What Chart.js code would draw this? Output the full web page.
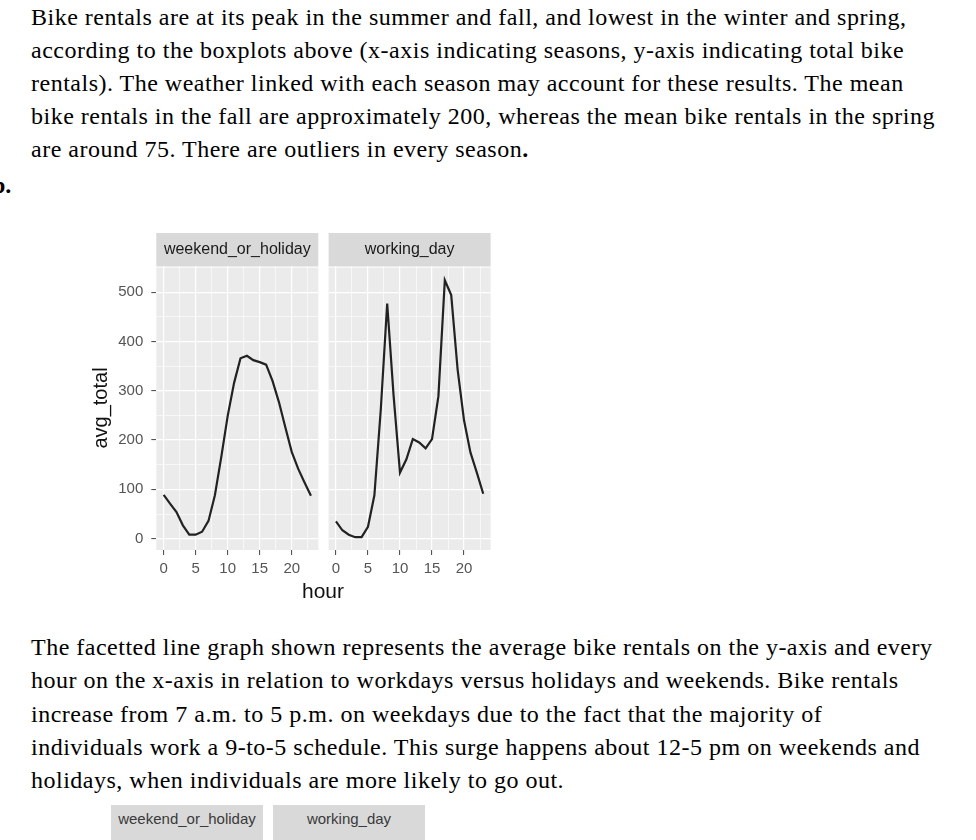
<!DOCTYPE html>
<html>
<head>
<meta charset="utf-8">
<script src="https://cdn.jsdelivr.net/npm/chart.js@4.4.1/dist/chart.umd.min.js"></script>
<style>
  body { margin: 0; background: #fff; width: 976px; height: 840px; overflow: hidden; position: relative; }
  .para { position: absolute; left: 31px; font-family: "Liberation Serif", "Times New Roman", serif;
          font-size: 24px; letter-spacing: 0.5px; line-height: 33px; color: #000; white-space: nowrap; }
  .mark { position: absolute; left: -8px; top: 169px; font-family: "Liberation Serif", serif;
          font-size: 24px; font-weight: bold; line-height: 33px; }
  canvas { position: absolute; }
  .xtitle { position: absolute; left: 273px; width: 100px; top: 579px; text-align: center;
            font-family: "Liberation Sans", Arial, sans-serif; font-size: 21px; color: #111; }
  .strip { position: absolute; top: 805px; height: 40px; background: #d9d9d9; color: #3a3a3a;
           font-family: "Liberation Sans", Arial, sans-serif; font-size: 15px; text-align: center; line-height: 28px; }
</style>
</head>
<body>
<div class="para" style="top:1px">
Bike rentals are at its peak in the summer and fall, and lowest in the winter and spring,<br>
according to the boxplots above (x-axis indicating seasons, y-axis indicating total bike<br>
rentals). The weather linked with each season may account for these results. The mean<br>
bike rentals in the fall are approximately 200, whereas the mean bike rentals in the spring<br>
are around 75. There are outliers in every season<b>.</b>
</div>
<div class="mark">b.</div>

<canvas id="leftChart" width="245" height="352" style="left:80px;top:228px;width:245px;height:352px"></canvas>
<canvas id="rightChart" width="170" height="352" style="left:325px;top:228px;width:170px;height:352px"></canvas>
<div class="xtitle">hour</div>

<div class="para" style="top:631px;line-height:33.3px">
The facetted line graph shown represents the average bike rentals on the y-axis and every<br>
hour on the x-axis in relation to workdays versus holidays and weekends. Bike rentals<br>
increase from 7 a.m. to 5 p.m. on weekdays due to the fact that the majority of<br>
individuals work a 9-to-5 schedule. This surge happens about 12-5 pm on weekends and<br>
holidays, when individuals are more likely to go out.
</div>
<div class="strip" style="left:111px;width:152px">weekend_or_holiday</div>
<div class="strip" style="left:273px;width:152px">working_day</div>

<script>
const hours = [0, 1, 2, 3, 4, 5, 6, 7, 8, 9, 10, 11, 12, 13, 14, 15, 16, 17, 18, 19, 20, 21, 22, 23];
const weekendOrHoliday = [89, 71, 54, 27, 8, 8, 14, 36, 88, 166, 249, 316, 366, 371, 362, 358, 353, 320, 277, 226, 176, 142, 114, 87];
const workingDay = [35, 17, 8, 3, 3, 24, 88, 262, 477, 290, 134, 161, 202, 195, 183, 202, 289, 524, 494, 343, 240, 175, 134, 91];
const panelNames = ["weekend_or_holiday", "working_day"];
const yBreaks = [0, 50, 100, 150, 200, 250, 300, 350, 400, 450, 500, 550];
const xBreaks = [0, 2.5, 5, 7.5, 10, 12.5, 15, 17.5, 20, 22.5];

const sansFont = '"Liberation Sans", Arial, sans-serif';

// grey panel background + strip on top, like ggplot facets
const facetPlugin = {
  id: "facet",
  beforeDraw(chart, args, opts) {
    const { ctx, chartArea: a } = chart;
    ctx.save();
    ctx.fillStyle = "#ebebeb";
    ctx.fillRect(a.left, a.top, a.right - a.left, a.bottom - a.top);
    ctx.fillStyle = "#d9d9d9";
    ctx.fillRect(a.left, a.top - 33, a.right - a.left, 33);
    ctx.fillStyle = "#1a1a1a";
    ctx.font = "16px " + sansFont;
    ctx.textAlign = "center";
    ctx.textBaseline = "middle";
    ctx.fillText(opts.text, (a.left + a.right) / 2, a.top - 16);
    ctx.restore();
  }
};

function makeChart(id, name, values, showY) {
  const points = hours.map((h, i) => ({ x: h, y: values[i] }));
  return new Chart(document.getElementById(id), {
    type: "line",
    data: {
      datasets: [{
        data: points,
        borderColor: "#222",
        borderWidth: 2.2,
        pointRadius: 0,
        tension: 0
      }]
    },
    plugins: [facetPlugin],
    options: {
      responsive: false,
      animation: false,
      layout: { padding: showY ? { top: 38, right: 6.7, left: 0, bottom: 0 } : { top: 38, right: 4.4, left: 3.6, bottom: 0 } },
      plugins: {
        legend: { display: false },
        tooltip: { enabled: false },
        facet: { text: name }
      },
      scales: {
        x: {
          type: "linear",
          min: -1.15,
          max: 24.15,
          afterBuildTicks: (s) => { s.ticks = xBreaks.map(v => ({ value: v })); },
          afterFit: (s) => { s.height = 30; },
          border: { display: false },
          grid: {
            color: "#ffffff",
            lineWidth: (c) => (c.tick && c.tick.value % 5 === 0 ? 1.2 : 0.6),
            tickColor: (c) => (c.tick && c.tick.value % 5 === 0 ? "#444" : "rgba(0,0,0,0)"),
            tickLength: 5,
            tickWidth: 1
          },
          ticks: {
            autoSkip: false,
            maxRotation: 0,
            padding: 5,
            color: "#555",
            font: { family: sansFont, size: 15 },
            callback: (v) => (v % 5 === 0 ? String(v) : "")
          }
        },
        y: {
          type: "linear",
          min: -23,
          max: 553,
          afterBuildTicks: (s) => { s.ticks = yBreaks.map(v => ({ value: v })); },
          afterFit: (s) => { s.width = showY ? 76.3 : 0; },
          border: { display: false },
          title: {
            display: showY,
            text: "avg_total",
            color: "#111",
            font: { family: sansFont, size: 20 },
            padding: { top: 9, bottom: 0 }
          },
          grid: {
            color: "#ffffff",
            lineWidth: (c) => (c.tick && c.tick.value % 100 === 0 ? 1.2 : 0.6),
            tickColor: (c) => (c.tick && c.tick.value % 100 === 0 ? "#444" : "rgba(0,0,0,0)"),
            drawTicks: showY,
            tickLength: 5,
            tickWidth: 1
          },
          ticks: {
            display: showY,
            autoSkip: false,
            padding: 8,
            color: "#555",
            font: { family: sansFont, size: 15 },
            callback: (v) => (v % 100 === 0 ? String(v) : "")
          }
        }
      }
    }
  });
}

makeChart("leftChart", panelNames[0], weekendOrHoliday, true);
makeChart("rightChart", panelNames[1], workingDay, false);
</script>
</body>
</html>
